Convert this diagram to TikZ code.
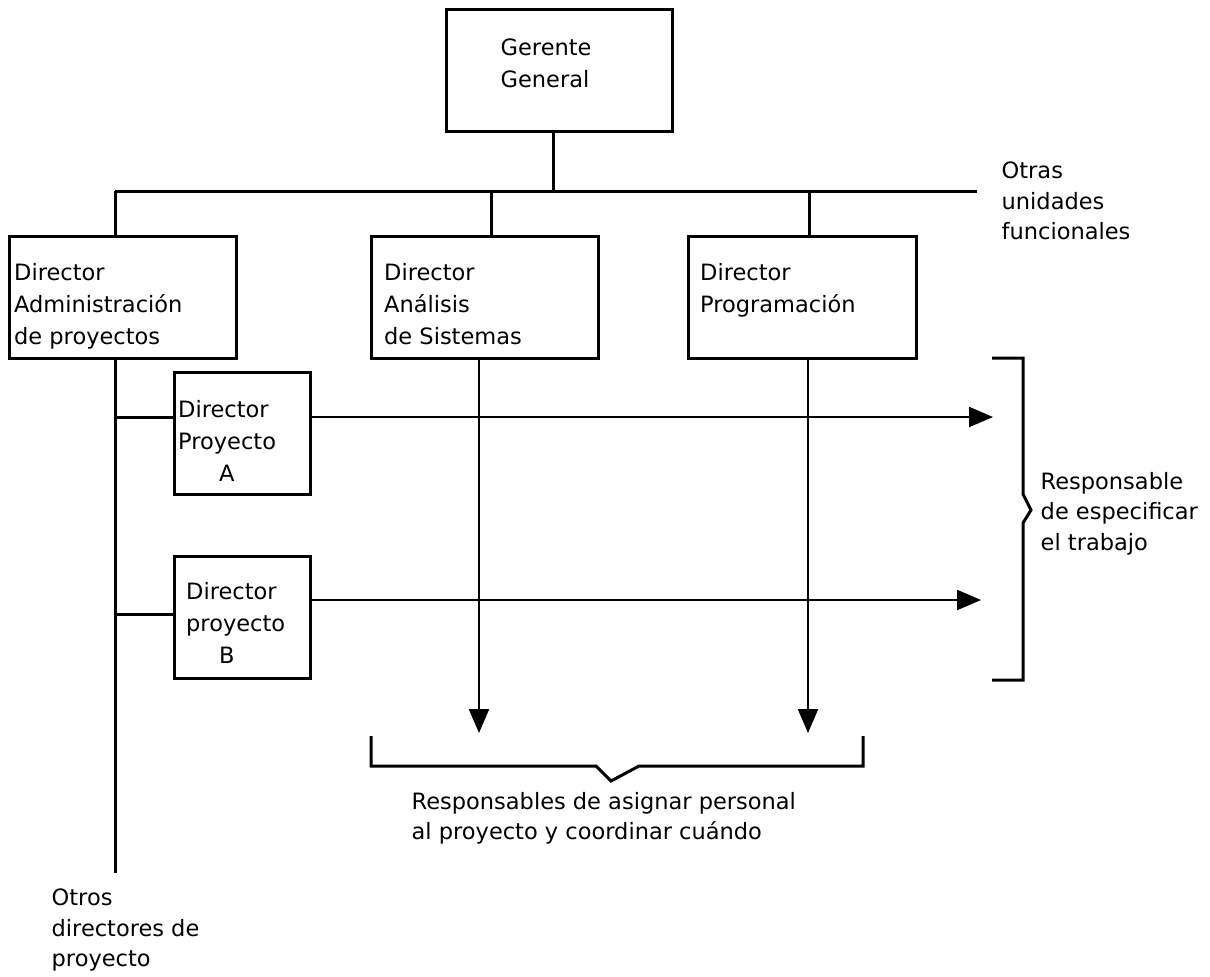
\documentclass[tikz,border=0pt]{standalone}
\usepackage{fontspec}
\setmainfont{DejaVu Sans}
\usetikzlibrary{arrows.meta,positioning}
\newcommand{\fuentecaja}{\fontsize{22.5}{32}\selectfont}
\newcommand{\fuentenota}{\fontsize{22.5}{30.5}\selectfont}
\tikzset{
  caja/.style={rectangle,draw,line width=3pt,inner sep=0pt},
  rotulo/.style={align=left,inner sep=0pt,font=\fuentecaja},
  nota/.style={align=left,inner sep=0pt,anchor=north west,font=\fuentenota},
  rama/.style={line width=3pt},
  flecha/.style={line width=2.3pt,-{Triangle[length=24pt,width=20pt]}},
  llave/.style={line width=3pt,line join=miter}
}

\begin{document}
\begin{tikzpicture}[x=1pt,y=-1pt]
  \useasboundingbox (0,0) rectangle (1210,977);

  % cajas
  \node[caja,minimum width=226,minimum height=122] (gg) at (559,70) {};
  \node[caja,minimum width=227,minimum height=122] (adm) at (122.5,297) {};
  \node[caja,minimum width=227,minimum height=122] (ana) at (484.5,297) {};
  \node[caja,minimum width=228,minimum height=122] (prg) at (802,297) {};
  \node[caja,minimum width=136,minimum height=122] (pa) at (242,433) {};
  \node[caja,minimum width=136,minimum height=122] (pb) at (242,617) {};

  \node[rotulo,below right=31pt and 56pt of gg.north west] (ggT) {Gerente\\General};
  \node[rotulo,below right=29pt and 6.5pt of adm.north west] (admT) {Director\\Administración\\de proyectos};
  \node[rotulo,below right=29pt and 14.5pt of ana.north west] (anaT) {Director\\Análisis\\de Sistemas};
  \node[rotulo,below right=29pt and 13.5pt of prg.north west] (prgT) {Director\\Programación};
  \node[rotulo,below right=30pt and 5.5pt of pa.north west] (paT) {Director\\Proyecto\\\hspace*{41pt}A};
  \node[rotulo,below right=28pt and 13.5pt of pb.north west] (pbT) {Director\\proyecto\\\hspace*{33pt}B};

  % textos sueltos
  \node[nota] (otras) at (1001.5,162) {Otras\\unidades\\funcionales};
  \node[nota] (espec) at (1040.5,472) {Responsable\\de especificar\\el trabajo};
  \node[nota] (asig) at (411.5,792) {Responsables de asignar personal\\al proyecto y coordinar cuándo};
  \node[nota] (otros) at (51.5,889) {Otros\\directores de\\proyecto};

  % lineas de mando
  \coordinate (bus) at (553,191);
  \coordinate (busI) at (115,191);
  \coordinate (busD) at (977,191);
  \coordinate (finAdm) at (115,873);
  \coordinate (rA) at (115,417);
  \coordinate (rB) at (115,614);
  \draw[rama] (gg.south -| bus) -- (bus);
  \draw[rama] (busI) -- (busD);
  \draw[rama] (busI) -- (busI |- adm.north);
  \draw[rama] ([xshift=6.5pt]ana.north) -- ([xshift=6.5pt]ana.north |- bus);
  \draw[rama] ([xshift=7pt]prg.north) -- ([xshift=7pt]prg.north |- bus);
  \draw[rama] (adm.south -| finAdm) -- (finAdm);
  \draw[rama] (rA) -- (rA -| pa.west);
  \draw[rama] (rB) -- (rB -| pb.west);

  % flechas
  \coordinate (fA) at (993,417);
  \coordinate (fB) at (981,600);
  \coordinate (fAna) at (479,733);
  \coordinate (fPrg) at (808,733);
  \draw[flecha] (fA -| pa.east) -- (fA);
  \draw[flecha] (fB -| pb.east) -- (fB);
  \draw[flecha] (fAna |- ana.south) -- (fAna);
  \draw[flecha] (fPrg |- prg.south) -- (fPrg);

  % llaves
  \draw[llave] (371,736) -- (371,766) -- (596,766) -- (611,781) -- (639,766) -- (863,766) -- (863,736);
  \draw[llave] (992,358) -- (1023,358) -- (1023,494) -- (1031,510) -- (1023,523) -- (1023,680) -- (992,680);
\end{tikzpicture}
\end{document}
